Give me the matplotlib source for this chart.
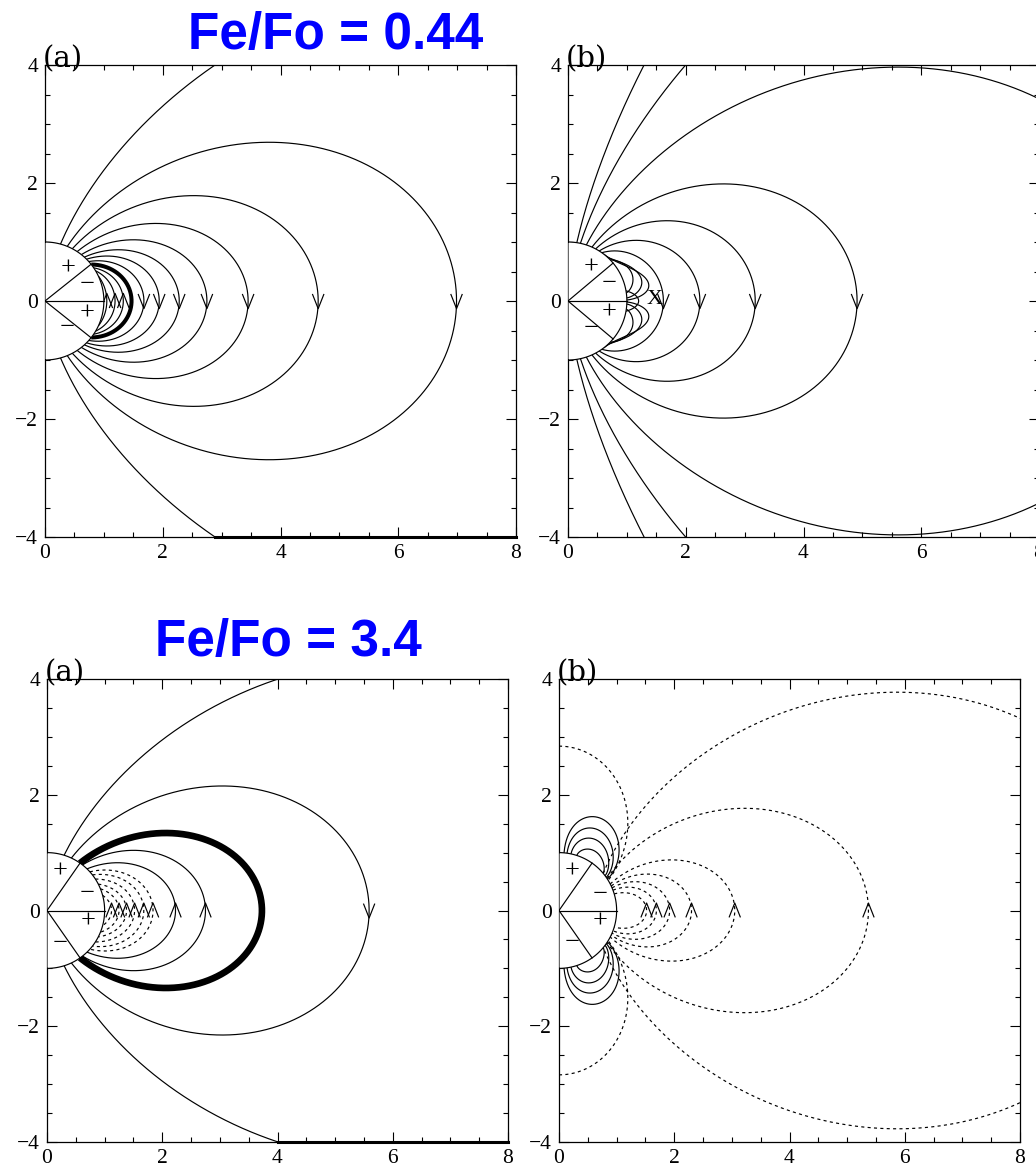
import numpy as np
import matplotlib
matplotlib.use("Agg")
import matplotlib.pyplot as plt
from matplotlib.patches import Polygon
from matplotlib.ticker import MultipleLocator

plt.rcParams['font.family'] = ['Liberation Serif', 'DejaVu Serif']

# ---------------- data ----------------
titles = ["Fe/Fo = 0.44", "Fe/Fo = 3.4"]
panel_labels = ["(a)", "(b)", "(a)", "(b)"]

# Top (a): Fe/Fo = 0.44
a1_open_apex = [14.4]
a1_open_n = [2.0]
a1_loop_apex = [6.99, 4.64, 3.45, 2.75, 2.28, 1.94, 1.68]
a1_loop_n = [2.0, 2.0, 2.05, 2.1, 2.05, 1.9, 1.75]
a1_bold_apex = [1.47]
a1_bold_n = [1.6]
a1_inner_apex = [1.33, 1.19, 1.05]
a1_inner_n = [1.5, 1.15, 0.5]
a1_sector_lat = 38.5

# Top (b)
b1_open_apex = [44.5, 22.4]
b1_open_n = [2.0, 2.0]
b1_loop_apex = [10.3, 4.91, 3.18, 2.24, 1.62]
b1_loop_n = [2.0, 1.77, 1.53, 1.27, 0.87]
b1_core_apex = [1.2]
b1_core_n = [12.0]
b1_lobe_lat_top = [44, 48, 52]
b1_lobe_lat_bot = [8, 3, 1]
b1_lobe_height = [0.18, 0.30, 0.40]
b1_lobe_skew = [1.2, 1.9, 2.85]
b1_sector_lat = 40.0
b1_null_x = 1.47

# Bottom (a): Fe/Fo = 3.4
a2_open_apex = [11.3]
a2_open_n = [2.0]
a2_loop_apex = [5.59]
a2_loop_n = [2.0]
a2_bold_apex = [3.73]
a2_bold_n = [2.37]
a2_solid_apex = [2.75, 2.23]
a2_solid_n = [2.09, 2.2]
a2_dash_apex = [1.84, 1.68, 1.52, 1.38, 1.25, 1.12]
a2_dash_n = [2.06, 2.18, 2.39, 2.76, 2.94, 3.2]
a2_sector_lat = 55.0

# Bottom (b)
b2_center = 0.6
b2_dash_apex = [10.3, 5.37, 3.05, 2.30, 1.92, 1.69, 1.52]
b2_dash_n = [1.95, 2.2, 2.4, 2.2, 2.1, 2.2, 2.8]
b2_dash_arrow = [False, True, True, True, True, True, True]
b2_polar_top = [2.84]
b2_polar_m = [1.6]
b2_lobe_lat_top = [85, 82, 78, 72]
b2_lobe_lat_bot = [33, 35, 37, 40]
b2_lobe_height = [0.75, 0.55, 0.38, 0.2]
b2_lobe_skew = [0.73, 0.73, 0.75, 0.8]
b2_sector_lat = 55.0

# polarity signs (x, y, text) per panel
signs_a1 = [(0.39, 0.55, "+"), (0.71, 0.27, "\u2212"), (0.71, -0.21, "+"), (0.37, -0.46, "\u2212")]
signs_b1 = [(0.40, 0.57, "+"), (0.70, 0.28, "\u2212"), (0.70, -0.20, "+"), (0.40, -0.48, "\u2212")]
signs_a2 = [(0.23, 0.67, "+"), (0.69, 0.28, "\u2212"), (0.72, -0.19, "+"), (0.23, -0.58, "\u2212")]
signs_b2 = [(0.22, 0.67, "+"), (0.71, 0.27, "\u2212"), (0.71, -0.19, "+"), (0.22, -0.57, "\u2212")]

# ---------------- figure ----------------
W, H = 1036, 1172
fig = plt.figure(figsize=(W / 100, H / 100), dpi=100)
fig.patch.set_facecolor("white")

LW = 0.85
DASH = (0, (2.6, 2.8))


def make_axes(left, top, w, h):
    ax = fig.add_axes([left / W, 1 - (top + h) / H, w / W, h / H])
    ax.set_xlim(0, 8)
    ax.set_ylim(-4, 4)
    ax.xaxis.set_major_locator(MultipleLocator(2))
    ax.xaxis.set_minor_locator(MultipleLocator(0.5))
    ax.yaxis.set_major_locator(MultipleLocator(2))
    ax.yaxis.set_minor_locator(MultipleLocator(0.5))
    ax.tick_params(which="both", direction="in", top=True, right=True,
                   width=0.8, labelsize=15.5, colors="black")
    ax.tick_params(which="major", length=7.2)
    ax.tick_params(which="minor", length=3.6)
    ax.tick_params(axis="x", pad=5)
    ax.tick_params(axis="y", pad=5)
    for s in ax.spines.values():
        s.set_linewidth(0.9)
    return ax


def half_loop(apex, n, cx=0.0):
    lam = np.linspace(0.0, np.pi / 2, 3000)
    r = (apex - cx) * np.cos(lam) ** n
    x = cx + r * np.cos(lam)
    y = r * np.sin(lam)
    inside = np.hypot(x, y) <= 1.0
    if inside.any():
        k = int(np.argmax(inside))
        x, y = x[:k + 1], y[:k + 1]
    return x, y


def draw_loop(ax, apex, n, cx=0.0, ls="-", lw=LW):
    x, y = half_loop(apex, n, cx)
    ax.plot(np.r_[x[::-1], x[1:]], np.r_[y[::-1], -y[1:]],
            color="black", lw=lw, ls=ls, zorder=2, solid_capstyle="butt")


def draw_open(ax, apex, n, clamp_bottom=False):
    x, y = half_loop(apex, n)
    ax.plot(x, y, color="black", lw=LW, zorder=2)
    if clamp_bottom:
        out = np.where(np.abs(y) > 4)[0]
        j = out[-1] + 1
        xs = np.r_[8.0, x[j], x[j:]]
        ys = np.r_[-4.0, -4.0, -y[j:]]
        ax.plot(xs[:2], ys[:2], color="black", lw=2.2, zorder=2, clip_on=False)
        ax.plot(xs[1:], ys[1:], color="black", lw=LW, zorder=2)
    else:
        ax.plot(x, -y, color="black", lw=LW, zorder=2)


def draw_arch(ax, la, lb, h, q, ls="-"):
    lam = np.radians(np.linspace(la, lb, 600))
    frac = (np.radians(la) - lam) / (np.radians(la) - np.radians(lb))
    t = frac ** q
    r = 1 + h * np.sin(np.pi * t) ** 0.7
    x, y = r * np.cos(lam), r * np.sin(lam)
    ax.plot(x, y, color="black", lw=LW, ls=ls, zorder=2)
    ax.plot(x, -y, color="black", lw=LW, ls=ls, zorder=2)


def draw_polar(ax, R, m, ls=DASH):
    lam = np.linspace(np.pi / 2, 0.0, 2000)
    r = R * np.sin(lam) ** m
    k = int(np.argmax(r <= 1.0))
    x, y = r[:k + 1] * np.cos(lam[:k + 1]), r[:k + 1] * np.sin(lam[:k + 1])
    ax.plot(x, y, color="black", lw=LW, ls=ls, zorder=2)
    ax.plot(x, -y, color="black", lw=LW, ls=ls, zorder=2)


def chevron(ax, x0, up):
    s = 1 if up else -1
    ax.plot([x0 - 0.095, x0, x0 + 0.095], [-s * 0.11, s * 0.13, -s * 0.11],
            color="black", lw=LW, zorder=2)


def draw_sphere(ax, sector_lat, signs):
    th = np.linspace(-np.pi / 2, np.pi / 2, 400)
    ax.add_patch(Polygon(np.c_[np.cos(th), np.sin(th)], closed=True,
                         facecolor="white", edgecolor="black", lw=LW, zorder=3))
    p = np.radians(sector_lat)
    for sy in (1, -1):
        ax.plot([0, np.cos(p)], [0, sy * np.sin(p)], color="black", lw=LW, zorder=4)
    ax.plot([0, 1], [0, 0], color="black", lw=LW, zorder=4)
    for (sx, sy, txt) in signs:
        ax.text(sx, sy, txt, fontsize=19, ha="center", va="center", zorder=5)


def panel_label(ax, txt):
    ax.text(-0.004, 0.996, txt, transform=ax.transAxes, fontsize=21,
            family=["DejaVu Serif"], ha="left", va="baseline", zorder=6)


# ---- top (a)
ax = make_axes(45, 65, 471, 472)
for L, n in zip(a1_open_apex, a1_open_n):
    draw_open(ax, L, n, clamp_bottom=True)
for L, n in zip(a1_loop_apex, a1_loop_n):
    draw_loop(ax, L, n)
    chevron(ax, L, up=False)
for L, n in zip(a1_bold_apex, a1_bold_n):
    draw_loop(ax, L, n, lw=2.9)
for L, n in zip(a1_inner_apex, a1_inner_n):
    draw_loop(ax, L, n)
    chevron(ax, L, up=True)
draw_sphere(ax, a1_sector_lat, signs_a1)
panel_label(ax, panel_labels[0])

# ---- top (b)
ax = make_axes(568, 65, 471, 472)
for L, n in zip(b1_open_apex, b1_open_n):
    draw_open(ax, L, n)
for L, n in zip(b1_loop_apex, b1_loop_n):
    draw_loop(ax, L, n)
    chevron(ax, L, up=False)
for L, n in zip(b1_core_apex, b1_core_n):
    draw_loop(ax, L, n)
for la, lb, h, q in zip(b1_lobe_lat_top, b1_lobe_lat_bot, b1_lobe_height, b1_lobe_skew):
    draw_arch(ax, la, lb, h, q)
ax.text(b1_null_x, 0.02, "X", fontsize=16, ha="center", va="center", zorder=5)
draw_sphere(ax, b1_sector_lat, signs_b1)
panel_label(ax, panel_labels[1])

# ---- bottom (a)
ax = make_axes(47, 679, 461, 463)
for L, n in zip(a2_open_apex, a2_open_n):
    draw_open(ax, L, n, clamp_bottom=True)
for L, n in zip(a2_loop_apex, a2_loop_n):
    draw_loop(ax, L, n)
    chevron(ax, L, up=False)
for L, n in zip(a2_bold_apex, a2_bold_n):
    draw_loop(ax, L, n, lw=4.8)
for L, n in zip(a2_solid_apex, a2_solid_n):
    draw_loop(ax, L, n)
    chevron(ax, L, up=True)
for L, n in zip(a2_dash_apex, a2_dash_n):
    draw_loop(ax, L, n, ls=DASH)
    chevron(ax, L, up=True)
draw_sphere(ax, a2_sector_lat, signs_a2)
panel_label(ax, panel_labels[2])

# ---- bottom (b)
ax = make_axes(559, 679, 461, 463)
for L, n, arr in zip(b2_dash_apex, b2_dash_n, b2_dash_arrow):
    draw_loop(ax, L, n, cx=b2_center, ls=DASH)
    if arr:
        chevron(ax, L, up=True)
for R, m in zip(b2_polar_top, b2_polar_m):
    draw_polar(ax, R, m)
for la, lb, h, q in zip(b2_lobe_lat_top, b2_lobe_lat_bot, b2_lobe_height, b2_lobe_skew):
    draw_arch(ax, la, lb, h, q)
draw_sphere(ax, b2_sector_lat, signs_b2)
panel_label(ax, panel_labels[3])

# ---- titles
fig.text(336 / W, 1 - 48.5 / H, titles[0], color="#0000FF", fontsize=37,
         fontweight="bold", family="Liberation Sans", ha="center", va="baseline")
fig.text(288 / W, 1 - 656 / H, titles[1], color="#0000FF", fontsize=37,
         fontweight="bold", family="Liberation Sans", ha="center", va="baseline")

fig.savefig("out.png", dpi=100, facecolor="white")
